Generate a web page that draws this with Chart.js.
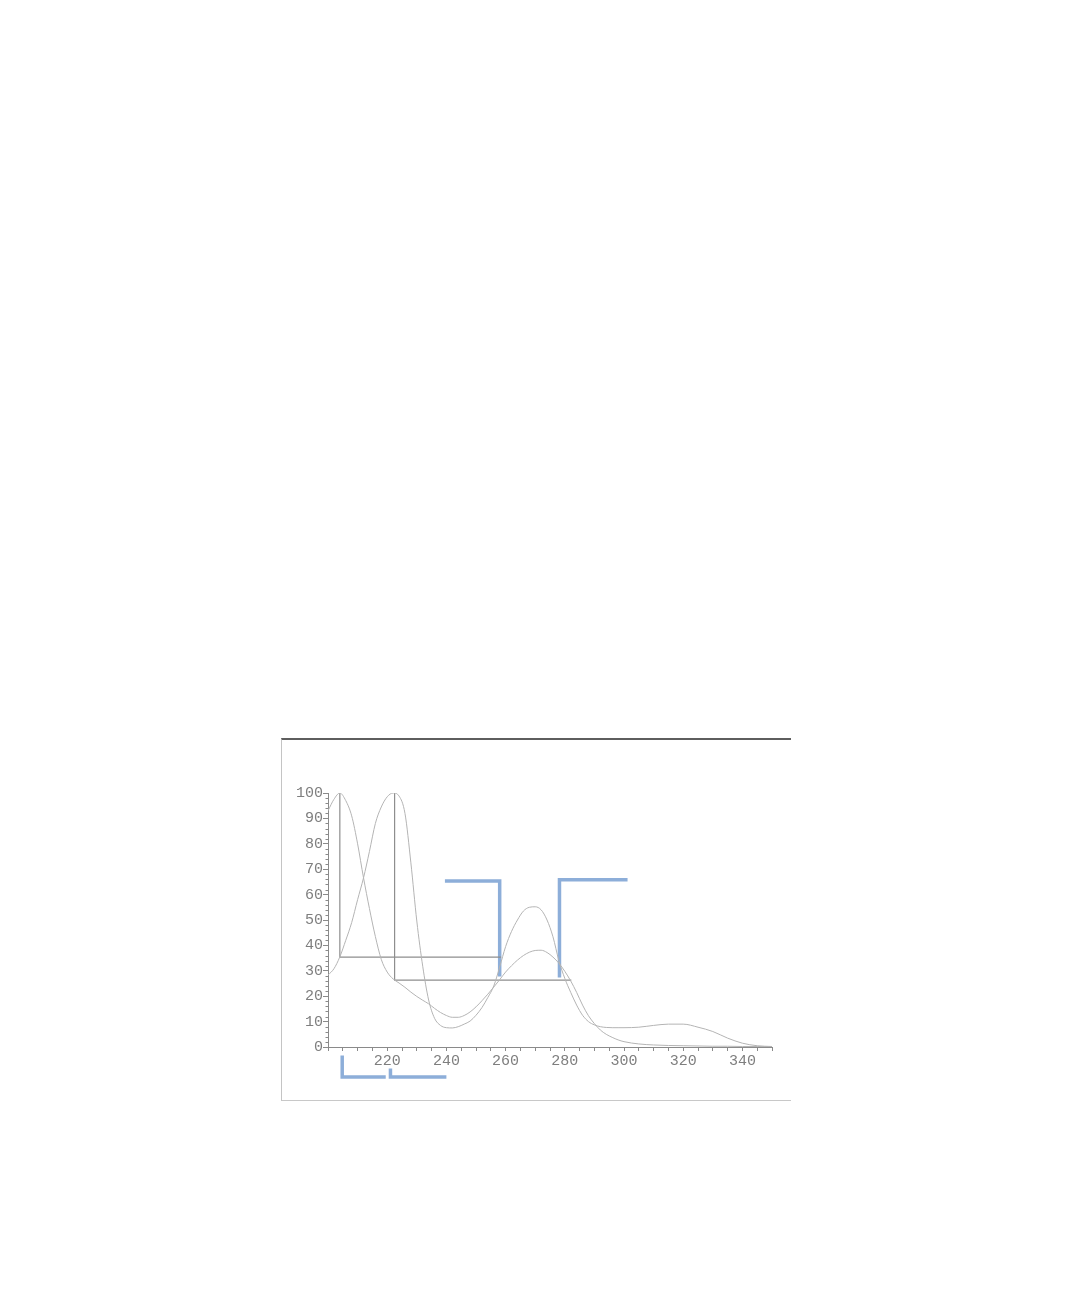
<!DOCTYPE html>
<html>
<head>
<meta charset="utf-8">
<title>Spectrum overlay</title>
<script src="https://cdn.jsdelivr.net/npm/chart.js@4.4.1/dist/chart.umd.min.js"></script>
<style>
  html, body { margin: 0; padding: 0; background: #fff; }
  #frame {
    position: absolute; left: 281px; top: 738px; width: 509px; height: 360px;
    border-top: 2px solid #5e5e5e; border-left: 1px solid #c4c4c4; border-bottom: 1px solid #c8c8c8;
  }
  #wrap { position: absolute; left: 0; top: 0; width: 1080px; height: 1296px; }
</style>
</head>
<body>
<div id="frame"></div>
<div id="wrap"><canvas id="spectrumChart"></canvas></div>
<script>
// Wellenlaengen (nm) und die zwei Spektren (normiert auf 100)
const wavelengths = [200, 202, 204, 206, 208, 210, 212, 214, 216, 218, 220, 222, 224, 226, 228, 230,
    232, 234, 236, 238, 240, 242, 244, 246, 248, 250, 252, 254, 256, 258, 260, 262, 264, 266, 268, 270,
    272, 274, 276, 278, 280, 282, 284, 286, 288, 290, 292, 294, 296, 298, 300, 305, 310, 315, 320, 325,
    330, 335, 340, 345, 350];

const spectrumA = [93, 97.5, 100, 97, 91, 80, 66.6, 54.5, 43.5, 34.5, 29.5, 26.8, 25.2, 23.5, 21.6, 19.9,
    18.4, 17, 15.2, 13.6, 12.4, 11.7, 11.7, 12.4, 13.8, 15.8, 18.2, 20.8, 23.6, 26.5, 29.5, 32, 34.2, 36,
    37.3, 38, 38.1, 37.2, 35.4, 33, 29.8, 26, 21.5, 16.5, 12.3, 9.2, 6.7, 5, 3.8, 2.8, 2.1, 1.2, 0.8, 0.6,
    0.5, 0.4, 0.3, 0.3, 0.2, 0.2, 0.1];

const spectrumB = [28.3, 30.8, 35.5, 42, 49, 58, 66.6, 77, 88, 94.5, 98.5, 100, 98.8, 92, 72.5, 49.6,
    31.8, 18.5, 11.3, 8.5, 7.6, 7.5, 8, 9, 10.2, 12.5, 15.5, 19.5, 24, 31.5, 39.5, 45.5, 50, 53.5, 55,
    55.2, 54, 50, 43.4, 34, 27, 21.5, 16.5, 12.5, 10, 8.7, 8, 7.7, 7.6, 7.6, 7.6, 7.8, 8.5, 9, 9, 7.8,
    6.1, 3.5, 1.5, 0.5, 0.2];

// Lotlinien vom Maximum zur anderen Kurve
const dropAx = [204, 204, 258.5];
const dropAy = [100, 35.4, 35.4];
const dropBx = [222.5, 222.5, 282.2];
const dropBy = [100, 26.3, 26.3];

// blaue Markierungen
const bracket1x = [239.5, 258, 258];
const bracket1y = [65.4, 65.4, 27.8];
const bracket2x = [278.2, 278.2, 301.2];
const bracket2y = [27.4, 65.8, 65.8];
const bracket3x = [204.8, 204.8, 219.5];
const bracket3y = [-3.3, -11.8, -11.8];
const bracket4x = [221.1, 221.1, 240];
const bracket4y = [-8.5, -11.8, -11.8];

const xTickLabels = [220, 240, 260, 280, 300, 320, 340];
const yTickLabels = [0, 10, 20, 30, 40, 50, 60, 70, 80, 90, 100];

function toPoints(xs, ys) {
    return xs.map((x, i) => ({ x: x, y: ys[i] }));
}

const curveStyle = {
    borderColor: '#b4b4b4',
    borderWidth: 1,
    pointRadius: 0,
    tension: 0.4,
    cubicInterpolationMode: 'monotone',
    fill: false
};

const dropStyle = {
    borderColor: '#8e8e8e',
    borderWidth: 1.2,
    pointRadius: 0,
    tension: 0,
    fill: false
};

const bracketStyle = {
    borderColor: '#8daed9',
    borderWidth: 3.5,
    pointRadius: 0,
    tension: 0,
    fill: false,
    clip: false,
    borderCapStyle: 'butt',
    borderJoinStyle: 'miter'
};

// kleine Zwischenstriche an der y-Achse
const minorTicks = {
    id: 'minorTicks',
    afterDraw(chart) {
        const yScale = chart.scales.y;
        const ctx = chart.ctx;
        ctx.save();
        ctx.strokeStyle = '#8a8a8a';
        ctx.lineWidth = 1;
        for (let v = 2; v < 100; v += 2) {
            if (v % 10 === 0) continue;
            const py = Math.round(yScale.getPixelForValue(v)) + 0.5;
            ctx.beginPath();
            ctx.moveTo(yScale.right - 2.5, py);
            ctx.lineTo(yScale.right, py);
            ctx.stroke();
        }
        ctx.restore();
    }
};

Chart.defaults.font.family = '"Liberation Mono", "DejaVu Sans Mono", monospace';
Chart.defaults.font.size = 15;
Chart.defaults.color = '#7e7e7e';

const ctx = document.getElementById('spectrumChart').getContext('2d');
new Chart(ctx, {
    type: 'line',
    data: {
        datasets: [
            Object.assign({ data: toPoints(wavelengths, spectrumA) }, curveStyle),
            Object.assign({ data: toPoints(wavelengths, spectrumB) }, curveStyle),
            Object.assign({ data: toPoints(dropAx, dropAy) }, dropStyle),
            Object.assign({ data: toPoints(dropBx, dropBy) }, dropStyle),
            Object.assign({ data: toPoints(bracket1x, bracket1y) }, bracketStyle),
            Object.assign({ data: toPoints(bracket2x, bracket2y) }, bracketStyle),
            Object.assign({ data: toPoints(bracket3x, bracket3y) }, bracketStyle),
            Object.assign({ data: toPoints(bracket4x, bracket4y) }, bracketStyle)
        ]
    },
    options: {
        responsive: true,
        maintainAspectRatio: false,
        animation: false,
        layout: {
            padding: { left: 288, top: 793, right: 308, bottom: 219 }
        },
        plugins: {
            legend: { display: false },
            tooltip: { enabled: false }
        },
        scales: {
            x: {
                type: 'linear',
                min: 200,
                max: 350,
                afterFit: scale => { scale.height = 30; },
                border: { color: '#8a8a8a', width: 1 },
                grid: { drawOnChartArea: false, drawTicks: true, tickLength: 4, color: '#8a8a8a' },
                ticks: {
                    stepSize: 5,
                    autoSkip: false,
                    maxRotation: 0,
                    padding: 1,
                    callback: v => xTickLabels.includes(v) ? String(v) : ''
                }
            },
            y: {
                type: 'linear',
                min: 0,
                max: 100,
                afterFit: scale => { scale.width = 40; },
                border: { color: '#8a8a8a', width: 1 },
                grid: { drawOnChartArea: false, drawTicks: true, tickLength: 5, color: '#8a8a8a' },
                ticks: {
                    stepSize: 10,
                    padding: 0,
                    callback: v => yTickLabels.includes(v) ? String(v) : ''
                }
            }
        }
    },
    plugins: [minorTicks]
});
</script>
</body>
</html>
